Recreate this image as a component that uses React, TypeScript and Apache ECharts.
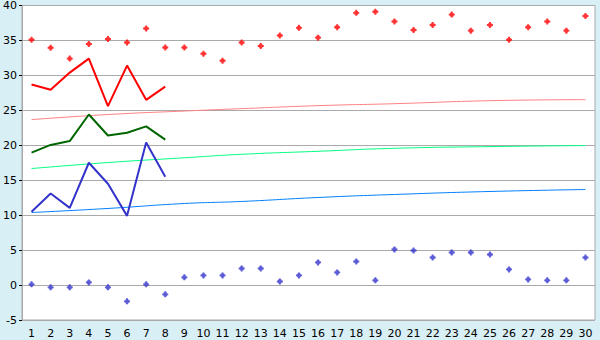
import React, { useEffect, useRef } from "react";
import * as echarts from "echarts";

const categories = Array.from({ length: 30 }, (_, i) => String(i + 1));
const yTicks = { min: -5, max: 40, interval: 5 };

const redPoints = [35.1, 33.95, 32.4, 34.5, 35.2, 34.7, 36.7, 34.0, 34.0, 33.1, 32.1, 34.7, 34.2, 35.7, 36.8, 35.4, 36.9, 38.95, 39.1, 37.7, 36.5, 37.2, 38.7, 36.4, 37.2, 35.1, 36.9, 37.7, 36.4, 38.5];
const bluePoints = [0.1, -0.33, -0.33, 0.38, -0.33, -2.33, 0.1, -1.33, 1.1, 1.38, 1.38, 2.38, 2.38, 0.52, 1.38, 3.24, 1.81, 3.38, 0.67, 5.1, 4.95, 3.95, 4.67, 4.67, 4.38, 2.24, 0.81, 0.67, 0.67, 3.95];

const redLine = [28.7, 27.95, 30.4, 32.4, 25.6, 31.4, 26.5, 28.4];
const greenLine = [18.95, 20.05, 20.6, 24.4, 21.4, 21.8, 22.7, 20.8];
const blueLine = [10.5, 13.1, 11.05, 17.5, 14.5, 9.9, 20.4, 15.5];

// trend lines read at a few categories (null elsewhere)
const trendCats = [1, 5, 9, 12, 16, 20, 25, 30];
const redTrendVals = [23.67, 24.4, 24.9, 25.24, 25.67, 25.95, 26.38, 26.53];
const greenTrendVals = [16.67, 17.53, 18.21, 18.71, 19.14, 19.57, 19.81, 19.96];
const blueTrendVals = [10.38, 10.96, 11.67, 11.96, 12.53, 12.96, 13.39, 13.67];

const toSparse = (cats: number[], vals: number[]) => {
  const arr: (number | null)[] = categories.map(() => null);
  cats.forEach((c, i) => (arr[c - 1] = vals[i]));
  return arr;
};

const marker = "path://M1.7,0H3.3V1H4V1.7H5V3.3H4V4H3.3V5H1.7V4H1V3.3H0V1.7H1V1H1.7Z";

export default function App() {
  const ref = useRef<HTMLDivElement>(null);
  useEffect(() => {
    document.body.style.margin = "0";
    const chart = echarts.init(ref.current!, undefined, { renderer: "svg" });
    const font = { fontFamily: "DejaVu Sans", fontSize: 11, color: "#000" };
    const trend = (vals: number[], color: string) => ({
      type: "line",
      data: toSparse(trendCats, vals),
      connectNulls: true,
      smooth: true,
      showSymbol: false,
      symbol: "none",
      lineStyle: { color, width: 1 },
      z: 2,
    });
    const line = (vals: number[], color: string) => ({
      type: "line",
      data: vals,
      showSymbol: false,
      symbol: "none",
      lineStyle: { color, width: 2 },
      z: 3,
    });
    chart.setOption({
      animation: false,
      backgroundColor: "#d9eff6",
      grid: {
        left: 20,
        top: 5,
        right: 5,
        bottom: 20,
        show: true,
        backgroundColor: "#ffffff",
        borderColor: "#aaaaaa",
        borderWidth: 1,
      },
      xAxis: {
        type: "category",
        data: categories,
        boundaryGap: true,
        axisLine: { lineStyle: { color: "#aaaaaa" } },
        axisTick: { alignWithLabel: true, length: 5, lineStyle: { color: "#000" } },
        axisLabel: { ...font, interval: 0, margin: 8 },
        splitLine: { show: false },
      },
      yAxis: {
        type: "value",
        min: yTicks.min,
        max: yTicks.max,
        interval: yTicks.interval,
        axisLine: { show: true, lineStyle: { color: "#aaaaaa" } },
        axisTick: { show: true, length: 3, lineStyle: { color: "#000" } },
        axisLabel: { ...font, margin: 5 },
        splitLine: { lineStyle: { color: "#aaaaaa", width: 1 } },
      },
      series: [
        trend(redTrendVals, "#ff8080"),
        trend(greenTrendVals, "#00ff80"),
        trend(blueTrendVals, "#0080ff"),
        line(redLine, "#ff0000"),
        line(greenLine, "#006600"),
        line(blueLine, "#3333cc"),
        {
          type: "scatter",
          data: redPoints,
          symbol: marker,
          symbolSize: 6,
          itemStyle: { color: "#ff0000" },
          z: 4,
        },
        {
          type: "scatter",
          data: bluePoints,
          symbol: marker,
          symbolSize: 6,
          itemStyle: { color: "#3333cc" },
          z: 4,
        },
      ],
    });
    return () => chart.dispose();
  }, []);
  return <div ref={ref} style={{ width: 600, height: 340 }} />;
}
